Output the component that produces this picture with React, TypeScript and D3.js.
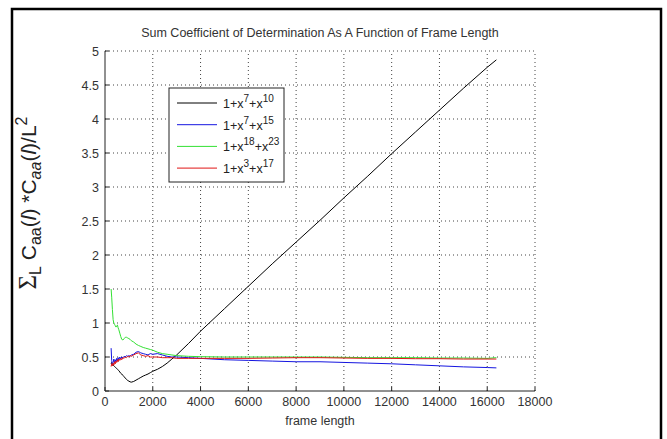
import React from "react";
import * as d3 from "d3";

const frameLength = [256, 280, 310, 340, 370, 400, 430, 460, 490, 520, 550, 580, 620, 660, 700, 750, 800, 850, 900, 950, 1000, 1050, 1100, 1200, 1300, 1400, 1500, 1600, 1700, 1800, 1900, 2000, 2200, 2400, 2600, 2800, 3000, 3500, 4000, 5000, 6000, 7000, 8000, 9000, 10000, 11000, 12000, 13000, 14000, 15000, 16000, 16384];

const seriesBlack = [0.40, 0.42, 0.39, 0.38, 0.37, 0.36, 0.35, 0.34, 0.33, 0.32, 0.31, 0.30, 0.28, 0.26, 0.25, 0.23, 0.21, 0.19, 0.17, 0.155, 0.145, 0.135, 0.13, 0.14, 0.16, 0.18, 0.20, 0.22, 0.235, 0.25, 0.27, 0.29, 0.32, 0.36, 0.41, 0.47, 0.53, 0.70, 0.88, 1.21, 1.54, 1.87, 2.19, 2.51, 2.84, 3.16, 3.49, 3.81, 4.13, 4.45, 4.76, 4.87];
const seriesBlue = [0.63, 0.45, 0.38, 0.42, 0.47, 0.41, 0.46, 0.43, 0.48, 0.44, 0.49, 0.46, 0.50, 0.47, 0.50, 0.49, 0.51, 0.50, 0.52, 0.51, 0.52, 0.51, 0.53, 0.54, 0.57, 0.58, 0.56, 0.55, 0.54, 0.53, 0.55, 0.54, 0.55, 0.53, 0.51, 0.50, 0.50, 0.49, 0.48, 0.46, 0.45, 0.44, 0.43, 0.43, 0.42, 0.41, 0.40, 0.385, 0.37, 0.355, 0.345, 0.34];
const seriesGreen = [1.5, 1.38, 1.2, 1.05, 1.0, 0.98, 0.96, 0.94, 0.96, 0.97, 0.93, 0.9, 0.85, 0.8, 0.76, 0.75, 0.77, 0.79, 0.79, 0.78, 0.77, 0.76, 0.74, 0.72, 0.69, 0.67, 0.655, 0.64, 0.63, 0.62, 0.61, 0.6, 0.57, 0.55, 0.54, 0.53, 0.52, 0.51, 0.505, 0.5, 0.5, 0.5, 0.5, 0.5, 0.495, 0.49, 0.49, 0.49, 0.485, 0.485, 0.48, 0.49];
const seriesRed = [0.36, 0.40, 0.37, 0.41, 0.38, 0.43, 0.40, 0.44, 0.42, 0.46, 0.43, 0.47, 0.45, 0.48, 0.46, 0.49, 0.48, 0.50, 0.49, 0.51, 0.50, 0.52, 0.51, 0.53, 0.55, 0.56, 0.53, 0.52, 0.51, 0.52, 0.50, 0.50, 0.50, 0.49, 0.49, 0.49, 0.48, 0.48, 0.48, 0.48, 0.48, 0.485, 0.49, 0.49, 0.485, 0.48, 0.48, 0.475, 0.475, 0.47, 0.47, 0.47];

const legendLabels = [["7", "10"], ["7", "15"], ["18", "23"], ["3", "17"]];
const seriesColors = ["#000000", "#1515e0", "#33e033", "#e01515"];
const xTicks = [0, 2000, 4000, 6000, 8000, 10000, 12000, 14000, 16000, 18000];
const yTicks = [0, 0.5, 1, 1.5, 2, 2.5, 3, 3.5, 4, 4.5, 5];

const W = 667, H = 439;
const L = 105, R = 535, T = 51, B = 391;
const FONT = "'Liberation Sans', Arial, sans-serif";

export default function App() {
  const x = d3.scaleLinear().domain([0, 18000]).range([L, R]);
  const y = d3.scaleLinear().domain([0, 5]).range([B, T]);
  const all = [seriesBlack, seriesBlue, seriesGreen, seriesRed];
  const line = d3.line<number>().x((_, i) => x(frameLength[i])).y(d => y(d));
  const lx = 169, ly = 88, lw = 115, lh = 94;
  return (
    <svg width={W} height={H} style={{ position: "absolute", left: 0, top: 0, background: "#fff" }} fontFamily={FONT}>
      <rect x={0} y={0} width={W} height={H} fill="#fff" />
      <rect x={12} y={9} width={649} height={445} fill="none" stroke="#000" strokeWidth={2.5} />
      {xTicks.filter(t => t > 0).map(t => (
        <line key={"gx" + t} x1={x(t)} x2={x(t)} y1={B} y2={T} stroke="#444" strokeWidth={1} strokeDasharray="1,3" />
      ))}
      {yTicks.filter(t => t > 0).map(t => (
        <line key={"gy" + t} x1={L} x2={R} y1={y(t)} y2={y(t)} stroke="#444" strokeWidth={1} strokeDasharray="1,3" />
      ))}
      {all.map((s, i) => (
        <path key={i} d={line(s) || ""} fill="none" stroke={seriesColors[i]} strokeWidth={1} />
      ))}
      <line x1={L} x2={R} y1={B} y2={B} stroke="#222" strokeWidth={1} />
      <line x1={L} x2={L} y1={B} y2={T} stroke="#222" strokeWidth={1} />
      {xTicks.map(t => (
        <g key={"tx" + t}>
          <line x1={x(t)} x2={x(t)} y1={B} y2={B - 4} stroke="#222" />
          <text x={x(t)} y={B + 15} fontSize={12.5} fill="#333" textAnchor="middle">{t}</text>
        </g>
      ))}
      {yTicks.map(t => (
        <g key={"ty" + t}>
          <line x1={L} x2={L + 4} y1={y(t)} y2={y(t)} stroke="#222" />
          <text x={L - 6} y={y(t) + 4.5} fontSize={12.5} fill="#333" textAnchor="end">{t}</text>
        </g>
      ))}
      <text x={(L + R) / 2} y={T - 14} fontSize={12.5} fill="#333" textAnchor="middle">Sum Coefficient of Determination As A Function of Frame Length</text>
      <text x={(L + R) / 2} y={B + 34} fontSize={12.5} fill="#333" textAnchor="middle">frame length</text>
      <text transform={`translate(36,203) rotate(-90)`} fontSize={21} fill="#222" textAnchor="middle">
        <tspan fontSize={25} fontFamily="'Liberation Serif', serif">Σ</tspan>
        <tspan fontSize={16} dy={5}>L</tspan>
        <tspan dy={-5}> C</tspan>
        <tspan fontSize={16} dy={5}>aa</tspan>
        <tspan dy={-5}>(</tspan>
        <tspan fontStyle="italic">l</tspan>
        <tspan>) *C</tspan>
        <tspan fontSize={16} dy={5} fontStyle="italic">aa</tspan>
        <tspan dy={-5}>(</tspan>
        <tspan fontStyle="italic">l</tspan>
        <tspan>)/L</tspan>
        <tspan fontSize={16} dy={-9}>2</tspan>
      </text>
      <rect x={lx} y={ly} width={lw} height={lh} fill="#fff" stroke="#222" strokeWidth={1} />
      {legendLabels.map((lab, i) => {
        const yy = ly + 15 + i * 21.7;
        return (
          <g key={"lg" + i}>
            <line x1={lx + 8} x2={lx + 48} y1={yy} y2={yy} stroke={seriesColors[i]} strokeWidth={1} />
            <text x={lx + 54} y={yy + 5} fontSize={12.5} fill="#222">
              1+x<tspan fontSize={10} dy={-6}>{lab[0]}</tspan>
              <tspan dy={6}>+x</tspan>
              <tspan fontSize={10} dy={-6}>{lab[1]}</tspan>
            </text>
          </g>
        );
      })}
    </svg>
  );
}
